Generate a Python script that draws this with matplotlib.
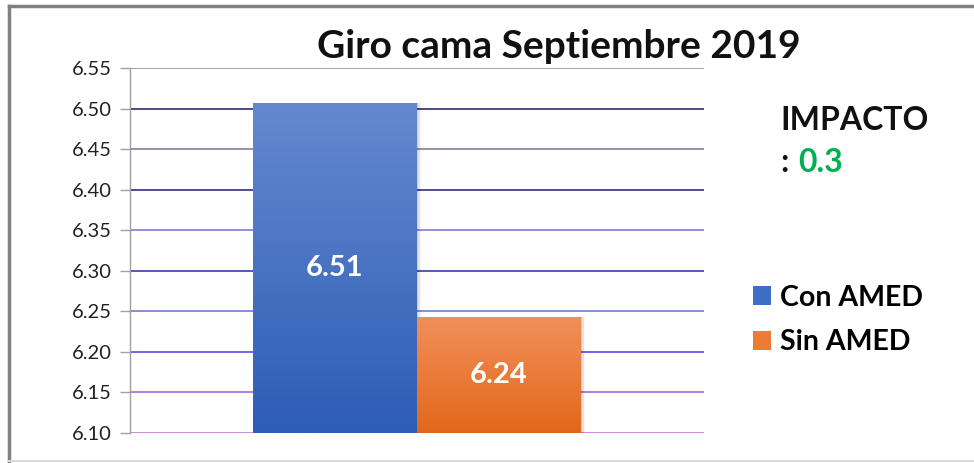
import numpy as np
import matplotlib
matplotlib.use("Agg")
import matplotlib.pyplot as plt
from matplotlib.patches import Patch
from matplotlib.lines import Line2D

plt.rcParams["font.family"] = ["Lato", "DejaVu Sans"]

# --- data ---
TITLE = "Giro cama Septiembre 2019"
SERIES = ["Con AMED", "Sin AMED"]
VALUES = [6.507, 6.243]
LABELS = ["6.51", "6.24"]
IMPACTO = "0.3"
YTICKS = [6.10, 6.15, 6.20, 6.25, 6.30, 6.35, 6.40, 6.45, 6.50, 6.55]

# gradient colours (top, bottom) per series
GRAD = [("#6589cf", "#2d5db6"), ("#f18f5a", "#e2681a")]
LEGEND_COLORS = ["#3f6fc4", "#ee7a35"]
# the grid lines in the reference shade from navy to pinkish purple
GRID_COLORS = ["#c070c8", "#a05ad8", "#5538e0", "#6a6ad6", "#2a2aa8",
               "#7474c4", "#1c1c78", "#74749a", "#1a1a60", "#8c8c8c"]

fig = plt.figure(figsize=(9.74, 4.63), dpi=100)
ax = fig.add_axes([130 / 974, 30 / 463, 574 / 974, 365 / 463])

x = [-0.5, 0.5]
ax.set_xlim(-1.75, 1.75)
ax.set_ylim(YTICKS[0], YTICKS[-1])

# grid lines
for yv, c in zip(YTICKS, GRID_COLORS):
    ax.axhline(yv, color=c, lw=1.1, zorder=1)

# bars with vertical gradient + soft shadow
for xi, v, (ctop, cbot) in zip(x, VALUES, GRAD):
    for k, a in enumerate([0.10, 0.07, 0.04]):
        ax.bar(xi + 0.008 * (k + 1), v - YTICKS[0], width=1.0, bottom=YTICKS[0],
               color="#000000", alpha=a, lw=0, zorder=2)
    b = ax.bar(xi, v - YTICKS[0], width=1.0, bottom=YTICKS[0], color=cbot, lw=0, zorder=3)[0]
    top_rgb = np.array(matplotlib.colors.to_rgb(ctop))
    bot_rgb = np.array(matplotlib.colors.to_rgb(cbot))
    t = np.linspace(0, 1, 256)[:, None]
    grad = (top_rgb[None, :] * (1 - t) + bot_rgb[None, :] * t)[:, None, :]
    im = ax.imshow(grad, extent=[xi - 0.5, xi + 0.5, YTICKS[0], v], aspect="auto",
                   zorder=4, interpolation="bilinear")
    im.set_clip_path(b)

for xi, v, lab in zip(x, VALUES, LABELS):
    ax.text(xi, (YTICKS[0] + v) / 2, lab, ha="center", va="center", color="white",
            fontsize=21, fontweight="bold", zorder=6)

ax.set_yticks(YTICKS)
ax.set_yticklabels([f"{v:.2f}" for v in YTICKS], fontsize=14.5, color="#222222")
ax.tick_params(axis="y", length=7, width=1, color="#a0a0a0", pad=6)
ax.set_xticks([])
for s in ["top", "right", "bottom"]:
    ax.spines[s].set_visible(False)
ax.spines["left"].set_color("#a0a0a0")
ax.spines["left"].set_linewidth(1)

fig.text(559 / 974, 1 - 46 / 463, TITLE, ha="center", va="center",
         fontsize=28, fontweight="bold", color="#111111")

fig.text(780 / 974, 1 - 120 / 463, "IMPACTO", ha="left", va="center",
         fontsize=23, fontweight="bold", color="#111111")
fig.text(780 / 974, 1 - 163 / 463, ":", ha="left", va="center",
         fontsize=23, fontweight="bold", color="#111111")
fig.text(798 / 974, 1 - 163 / 463, IMPACTO, ha="left", va="center",
         fontsize=23, fontweight="bold", color="#00b050")

handles = [Patch(facecolor=c, edgecolor="none") for c in LEGEND_COLORS]
fig.legend(handles, SERIES, loc="center left", bbox_to_anchor=(753 / 974, 1 - 320 / 463),
           frameon=False, prop={"size": 20.5, "weight": "bold"}, handlelength=0.63,
           handleheight=0.63, handletextpad=0.32, labelspacing=0.66,
           borderpad=0, borderaxespad=0)

# outer chart frame
fig.add_artist(Line2D([9 / 974, 1.0], [1 - 6 / 463, 1 - 6 / 463], color="#808080", lw=2.5,
                      transform=fig.transFigure))
fig.add_artist(Line2D([9 / 974, 9 / 974], [1 - 6 / 463, 1 - 461 / 463], color="#808080", lw=2.5,
                      transform=fig.transFigure))
fig.add_artist(Line2D([9 / 974, 1.0], [1 - 461 / 463, 1 - 461 / 463], color="#d9d9d9", lw=1.5,
                      transform=fig.transFigure))

fig.savefig("out.png", dpi=100)
